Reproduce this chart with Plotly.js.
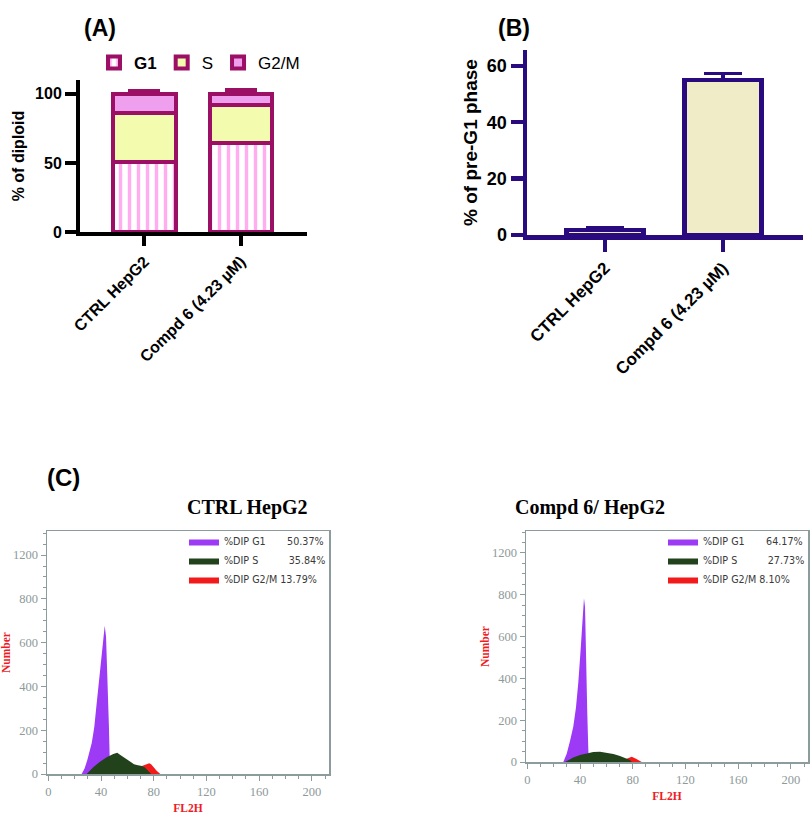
<!DOCTYPE html>
<html>
<head>
<meta charset="utf-8">
<script src="https://cdn.plot.ly/plotly-3.0.1.min.js"></script>
<style>html,body{margin:0;padding:0;background:#fff;}#chart{width:810px;height:814px;}</style>
</head>
<body>
<div id="chart"></div>
<script>
// ---------- Panel A / B data ----------
const groups = ['CTRL HepG2', 'Compd 6 (4.23 \u00B5M)'];
const phaseNames = ['G1', 'S', 'G2/M'];
const g1Pct = [50.37, 64.17];
const sPct = [35.84, 27.73];
const g2mPct = [13.79, 8.10];
const g1Err = [1.5, 2.5];
const sErr = [2.0, 2.5];
const g2mErr = [2.0, 3.0];
const noErr = [0, 0];
const preG1Pct = [1.8, 55.0];
const preG1Err = [0.6, 2.2];

// ---------- Panel C data (histograms, FL2H vs Number) ----------
const histTitles = ['CTRL HepG2', 'Compd 6/ HepG2'];
const histTicksX = [0, 40, 80, 120, 160, 200];
const histTickVals = [0, 200, 400, 600, 800, 1000];
const histTickText = ['0', '200', '400', '600', '800', '1200'];

const ctrlG1X = [25.3, 27.5, 29.6, 31.3, 32.9, 34.0, 34.9, 36.2, 37.5, 38.7, 39.7, 41.0, 42.0, 42.8, 43.8, 44.5, 45.3, 46.0, 46.6, 46.8];
const ctrlG1Y = [0, 25, 64, 100, 140, 180, 216, 293, 369, 445, 521, 597, 658, 677, 627, 521, 370, 216, 64, 0];
const ctrlSX = [29.1, 34.1, 39.2, 44.3, 49.3, 52.3, 54.4, 56.9, 59.5, 62.0, 65.0, 68.0, 71.0, 73.4, 75.9, 78.0];
const ctrlSY = [0, 31, 56, 76, 91, 97, 88, 77, 65, 54, 45, 40, 37, 30, 14, 0];
const ctrlG2mX = [68, 72, 74.5, 76.6, 78, 80, 82.2, 85];
const ctrlG2mY = [30, 38, 45, 49, 45, 30, 15, 0];

const compdG1X = [27.3, 29.9, 32.4, 34.9, 36.9, 38.7, 40.5, 42.0, 43.0, 43.8, 44.5, 45.5, 46.3, 46.7];
const compdG1Y = [0, 40, 100, 170, 260, 380, 540, 700, 783, 740, 488, 233, 57, 0];
const compdSX = [28.6, 34.9, 40.0, 45.1, 50.1, 55.2, 60.2, 65.3, 70.3, 75.4, 77.9, 79.2];
const compdSY = [0, 22, 33, 41, 48, 49, 45, 38, 29, 18, 10, 0];
const compdG2mX = [74, 76.6, 79.2, 82.5, 86.8];
const compdG2mY = [12, 19, 25, 16, 0];

const ctrlDip = [50.37, 35.84, 13.79];
const compdDip = [64.17, 27.73, 8.10];

// ---------- styles ----------
const MAG = '#9B0F64';
const IND = '#2A0A7F';
const W = 810, H = 814;
const px = v => v / W;
const py = v => 1 - v / H;
const NB = n => '\u00A0'.repeat(n);
const dipName = (lab, pad, v) => '%DIP ' + lab + NB(pad) + v.toFixed(2) + '%';

const traces = [];

// Panel A stacked bars
const aSeries = [
  {name: '<b>' + phaseNames[0] + '</b>', y: g1Pct, err: g1Err, marker: {color: 'white', line: {color: MAG, width: 4},
     pattern: {shape: '|', fgcolor: '#FFADEE', bgcolor: 'white', size: 9, solidity: 0.38}}},
  {name: phaseNames[1], y: sPct, err: sErr, marker: {color: '#F2FBAE', line: {color: MAG, width: 4}}},
  {name: phaseNames[2], y: g2mPct, err: g2mErr, marker: {color: '#EEA0EE', line: {color: MAG, width: 4}}}
];
aSeries.forEach((s, i) => {
  traces.push({
    type: 'bar', x: groups, y: s.y, name: s.name, marker: s.marker,
    xaxis: 'x', yaxis: 'y', legend: 'legend', legendrank: i + 1,
    error_y: {type: 'data', symmetric: false, array: s.err, arrayminus: noErr, color: MAG, thickness: 4, width: 16},
    hoverinfo: 'skip'
  });
});

// Panel B bars
traces.push({
  type: 'bar', x: groups, y: preG1Pct, showlegend: false,
  marker: {color: '#F0ECC8', line: {color: IND, width: 4.5}},
  error_y: {type: 'data', symmetric: false, array: preG1Err, arrayminus: noErr, color: IND, thickness: 3.5, width: 19},
  xaxis: 'x2', yaxis: 'y2', hoverinfo: 'skip'
});

// Panel C histograms
const histSets = [
  {xa: 'x3', ya: 'y3', lg: 'legend2', dip: ctrlDip,
   g1: [ctrlG1X, ctrlG1Y], s: [ctrlSX, ctrlSY], g2m: [ctrlG2mX, ctrlG2mY]},
  {xa: 'x4', ya: 'y4', lg: 'legend3', dip: compdDip,
   g1: [compdG1X, compdG1Y], s: [compdSX, compdSY], g2m: [compdG2mX, compdG2mY]}
];
histSets.forEach(h => {
  const area = (xy, name, color, rank) => ({
    type: 'scatter', mode: 'lines', x: xy[0], y: xy[1], name: name,
    fill: 'tozeroy', fillcolor: color, line: {width: 0, color: color},
    xaxis: h.xa, yaxis: h.ya, legend: h.lg, legendrank: rank, hoverinfo: 'skip'
  });
  traces.push(area(h.g2m, dipName('G2/M', 1, h.dip[2]), '#F21A1A', 3));
  traces.push(area(h.g1, dipName('G1', 7, h.dip[0]), '#9D3AF5', 1));
  traces.push(area(h.s, dipName('S', 10, h.dip[1]), '#21421A', 2));
});

const boldAx = (color, lw, tlen, size) => ({
  showline: true, linecolor: color, linewidth: lw, ticks: 'outside', ticklen: tlen, tickwidth: lw,
  tickcolor: color, showgrid: false, zeroline: false, fixedrange: true,
  tickfont: {family: 'Liberation Sans, Arial, sans-serif', size: size, color: '#000', weight: 'bold'}
});

const HGREY = '#8C9C9C';
const histX = (dom, anchor) => ({
  domain: dom, anchor: anchor, range: [-1, 213], tickmode: 'array', tickvals: histTicksX,
  showline: true, mirror: true, linecolor: HGREY, linewidth: 1.5,
  ticks: 'outside', ticklen: 5, tickwidth: 1, tickcolor: HGREY,
  minor: {tickmode: 'linear', tick0: 0, dtick: 10, ticks: 'outside', ticklen: 3, tickwidth: 1, tickcolor: HGREY},
  showgrid: false, zeroline: false, fixedrange: true,
  tickfont: {family: 'Liberation Serif, Times New Roman, serif', size: 12.5, color: '#8E9A9A'},
  title: {text: 'FL2H', standoff: 6, font: {family: 'Liberation Serif, serif', size: 11.5, color: '#EE1C25', weight: 'bold'}}
});
const histY = (dom, anchor, top) => ({
  domain: dom, anchor: anchor, range: [0, top], tickmode: 'array', tickvals: histTickVals, ticktext: histTickText,
  showline: true, mirror: true, linecolor: HGREY, linewidth: 1.5,
  ticks: 'outside', ticklen: 5, tickwidth: 1, tickcolor: HGREY,
  minor: {tickmode: 'linear', tick0: 0, dtick: 50, ticks: 'outside', ticklen: 3, tickwidth: 1, tickcolor: HGREY},
  showgrid: false, zeroline: false, fixedrange: true,
  tickfont: {family: 'Liberation Serif, Times New Roman, serif', size: 12.5, color: '#8E9A9A'},
  title: {text: 'Number', standoff: 0, font: {family: 'Liberation Serif, serif', size: 11.5, color: '#EE1C25', weight: 'bold'}}
});

const layout = {
  width: W, height: H, margin: {l: 0, r: 0, t: 0, b: 0},
  paper_bgcolor: '#fff', plot_bgcolor: 'rgba(0,0,0,0)',
  font: {family: 'Liberation Sans, Arial, sans-serif', color: '#000'},
  barmode: 'stack', bargap: 0.35,
  xaxis: Object.assign(boldAx('#000', 4, 10, 16), {domain: [px(80), px(307)], anchor: 'y', type: 'category',
    range: [-0.668, 1.684], tickangle: -45}),
  yaxis: Object.assign(boldAx('#000', 4, 11, 16), {domain: [py(232), py(80)], anchor: 'x', range: [0, 110],
    tickmode: 'linear', tick0: 0, dtick: 50,
    title: {text: '% of diploid', standoff: 7, font: {size: 16, weight: 'bold', color: '#000'}}}),
  xaxis2: Object.assign(boldAx(IND, 4.5, 12, 17), {domain: [px(527), px(803)], anchor: 'y2', type: 'category',
    range: [-0.661, 1.678], tickangle: -45}),
  yaxis2: Object.assign(boldAx(IND, 4.5, 12, 18), {domain: [py(235), py(50)], anchor: 'x2', range: [0, 65.6],
    tickmode: 'linear', tick0: 0, dtick: 20,
    title: {text: '% of pre-G1 phase', standoff: 5, font: {size: 19, weight: 'bold', color: '#000'}}}),
  xaxis3: histX([px(47), px(329)], 'y3'),
  yaxis3: histY([py(774), py(531)], 'x3', 1110),
  xaxis4: histX([px(526), px(808)], 'y4'),
  yaxis4: histY([py(762), py(531)], 'x4', 1105),
  legend: {orientation: 'h', x: px(94), y: py(63), xanchor: 'left', yanchor: 'middle', traceorder: 'normal',
    itemgap: 12, bgcolor: 'rgba(0,0,0,0)', font: {size: 17, color: '#000'}},
  legend2: {x: px(184), y: py(527), xanchor: 'left', yanchor: 'top', traceorder: 'normal',
    bgcolor: 'rgba(0,0,0,0)', font: {family: 'DejaVu Sans, sans-serif', size: 9.6, color: '#3A3A3A'}},
  legend3: {x: px(663), y: py(527), xanchor: 'left', yanchor: 'top', traceorder: 'normal',
    bgcolor: 'rgba(0,0,0,0)', font: {family: 'DejaVu Sans, sans-serif', size: 9.6, color: '#3A3A3A'}},
  annotations: [
    {text: '(A)', x: px(82), y: py(13), xref: 'paper', yref: 'paper', showarrow: false, font: {size: 23, weight: 'bold'}},
    {text: '(B)', x: px(514), y: py(13), xref: 'paper', yref: 'paper', showarrow: false, font: {size: 23, weight: 'bold'}},
    {text: '(C)', x: px(45), y: py(477), xref: 'paper', yref: 'paper', showarrow: false, font: {size: 24, weight: 'bold'}},
    {text: histTitles[0], x: px(185), y: py(507), xref: 'paper', yref: 'paper', showarrow: false,
      font: {family: 'Liberation Serif, Times New Roman, serif', size: 20, weight: 'bold'}},
    {text: histTitles[1], x: px(667), y: py(507), xref: 'paper', yref: 'paper', showarrow: false,
      font: {family: 'Liberation Serif, Times New Roman, serif', size: 20, weight: 'bold'}}
  ]
};

Plotly.newPlot('chart', traces, layout, {displayModeBar: false, staticPlot: true});
</script>
</body>
</html>
